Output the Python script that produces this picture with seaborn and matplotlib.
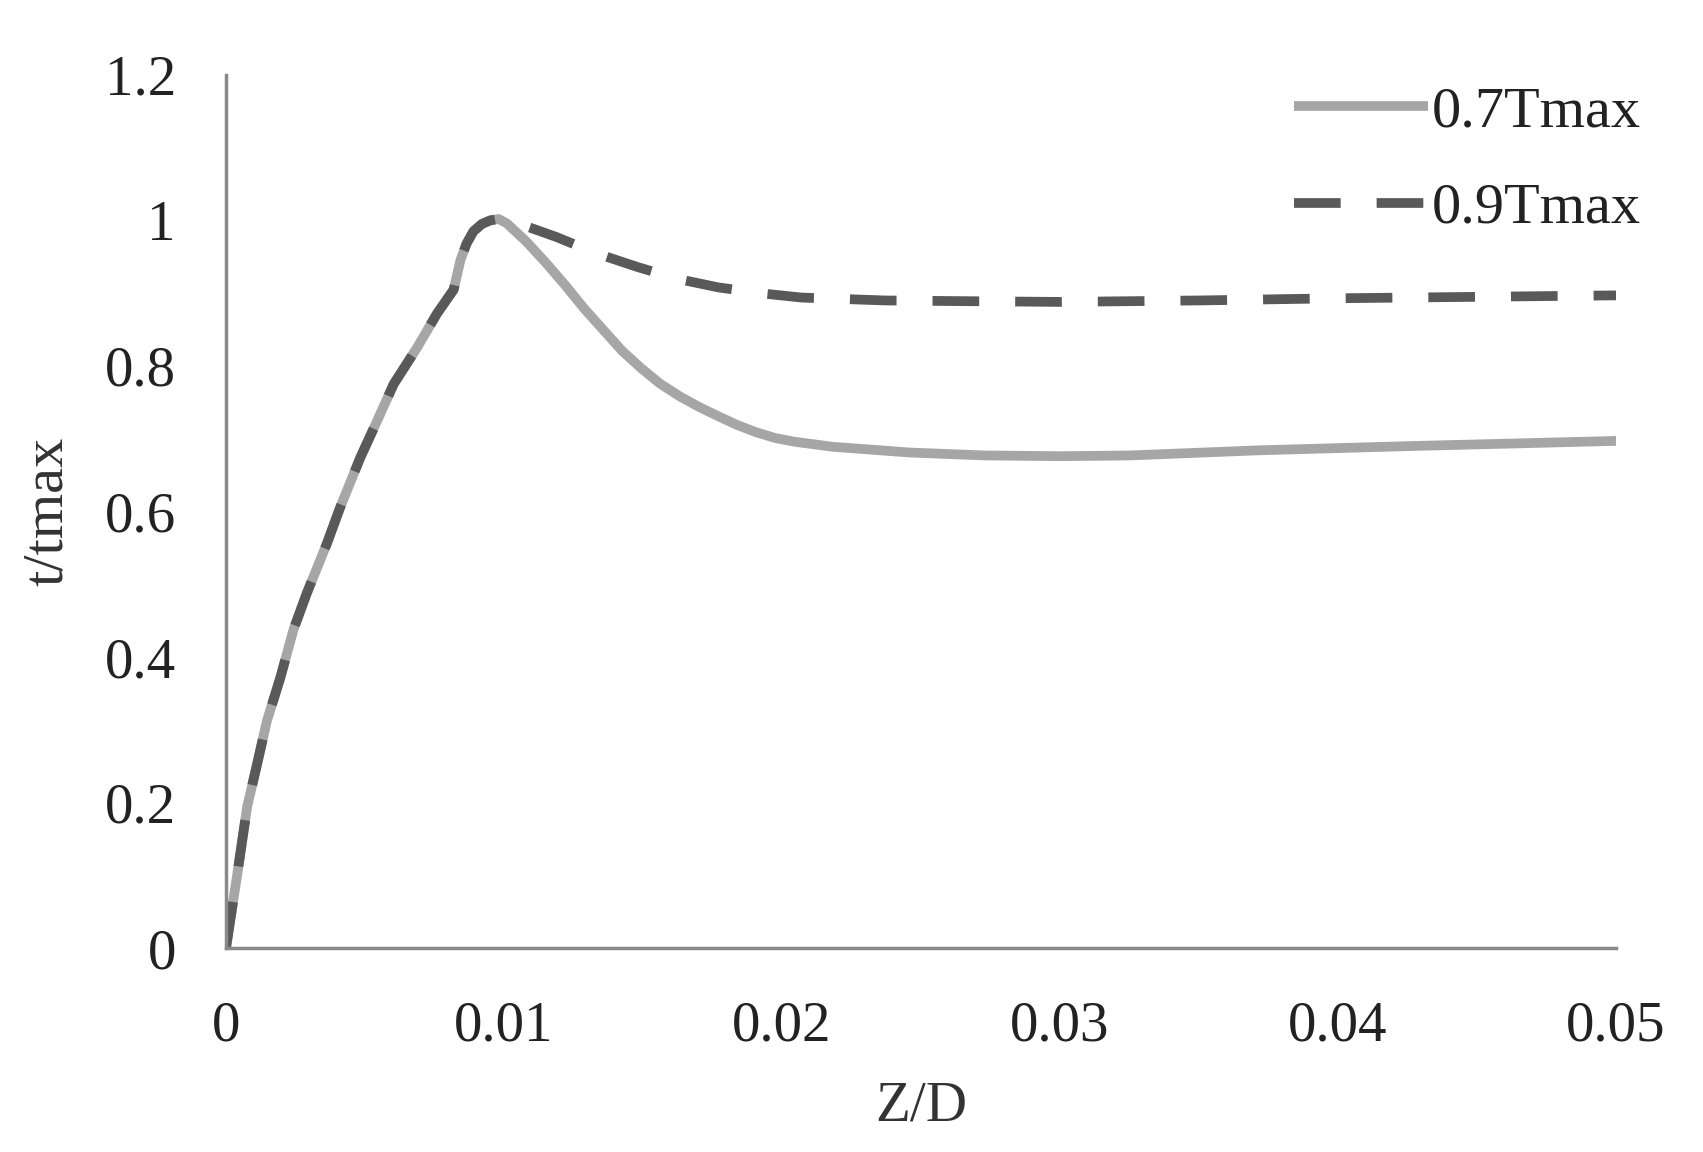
import pandas as pd
import matplotlib
matplotlib.use("Agg")
import matplotlib.pyplot as plt
import seaborn as sns

# Phần đi lên chung của hai đường (trùng nhau tới đỉnh)
rise_x = [0, 0.0001, 0.0004, 0.00076, 0.00112, 0.00147, 0.00195, 0.00243, 0.00291,
          0.00363, 0.00411, 0.00483, 0.00543, 0.00603, 0.00687, 0.00759, 0.00819,
          0.00843, 0.00865, 0.0089, 0.0092, 0.0095, 0.0098]
rise_y = [0, 0.025, 0.10, 0.194, 0.253, 0.312, 0.371, 0.438, 0.488,
          0.556, 0.606, 0.674, 0.724, 0.775, 0.825, 0.872, 0.905,
          0.945, 0.968, 0.985, 0.995, 1.0, 1.002]

# Phần sau đỉnh của 0.7Tmax
tail07_x = [0.0101, 0.0108, 0.0115, 0.0122, 0.01288, 0.01356, 0.01424, 0.01493,
            0.0156, 0.01633, 0.017, 0.0177, 0.01838, 0.01906, 0.01975, 0.02043,
            0.0218, 0.0246, 0.0273, 0.030, 0.0325, 0.0371, 0.0427, 0.05]
tail07_y = [0.996, 0.971, 0.942, 0.911, 0.879, 0.850, 0.821, 0.797,
            0.776, 0.758, 0.744, 0.731, 0.719, 0.709, 0.701, 0.696,
            0.689, 0.681, 0.677, 0.676, 0.677, 0.684, 0.690, 0.697]

# Phần sau đỉnh của 0.9Tmax
tail09_x = [0.0101, 0.0105, 0.0119, 0.0133, 0.0148, 0.0162, 0.0177, 0.0192, 0.0207,
            0.0237, 0.0267, 0.030, 0.035, 0.040, 0.045, 0.05]
tail09_y = [1.0, 0.996, 0.977, 0.955, 0.936, 0.920, 0.908, 0.900, 0.894,
            0.890, 0.889, 0.888, 0.890, 0.893, 0.895, 0.897]

labels = ["0.7Tmax", "0.9Tmax"]
x_ticks = [0, 0.01, 0.02, 0.03, 0.04, 0.05]
x_tick_labels = ["0", "0.01", "0.02", "0.03", "0.04", "0.05"]
y_ticks = [0, 0.2, 0.4, 0.6, 0.8, 1.0, 1.2]
y_tick_labels = ["0", "0.2", "0.4", "0.6", "0.8", "1", "1.2"]

df07 = pd.DataFrame({"Z/D": rise_x + tail07_x, "t/tmax": rise_y + tail07_y})
df09 = pd.DataFrame({"Z/D": rise_x + tail09_x, "t/tmax": rise_y + tail09_y})

sns.set_style("white")
plt.rcParams["font.family"] = ["Liberation Serif", "DejaVu Serif"]

fig = plt.figure(figsize=(17.03, 11.52), dpi=100)
ax = fig.add_axes([0.1327, 0.177, 0.8163, 0.758])

sns.lineplot(data=df07, x="Z/D", y="t/tmax", ax=ax, color="#a6a6a6",
             linewidth=7, label=labels[0], sort=False,
             solid_joinstyle="round", solid_capstyle="butt")
sns.lineplot(data=df09, x="Z/D", y="t/tmax", ax=ax, color="#595959",
             linewidth=7, linestyle=(0, (4.8, 3.7)), label=labels[1], sort=False,
             dash_joinstyle="round")

ax.set_xlim(0, 0.05)
ax.set_ylim(0, 1.2)
ax.set_xticks(x_ticks)
ax.set_xticklabels(x_tick_labels)
ax.set_yticks(y_ticks)
ax.set_yticklabels(y_tick_labels)
ax.tick_params(axis="both", length=0, labelsize=41, colors="#222222")
ax.tick_params(axis="x", pad=38)
ax.tick_params(axis="y", pad=36)
ax.set_xlabel("Z/D", fontsize=41, color="#333333", labelpad=20)
ax.set_ylabel("t/tmax", fontsize=42, color="#333333", labelpad=22)

# Chỉ giữ trục trái và trục dưới
sns.despine(ax=ax)
for side in ["left", "bottom"]:
    ax.spines[side].set_color("#8a8a8a")
    ax.spines[side].set_linewidth(2.5)

leg = ax.legend(loc="upper right", bbox_to_anchor=(0.977, 0.946),
                bbox_transform=fig.transFigure, frameon=False, fontsize=42,
                handlelength=2.3, handletextpad=0.05, labelspacing=0.75,
                borderaxespad=0)
for t in leg.get_texts():
    t.set_color("#222222")

plt.savefig("out.png", dpi=100)
